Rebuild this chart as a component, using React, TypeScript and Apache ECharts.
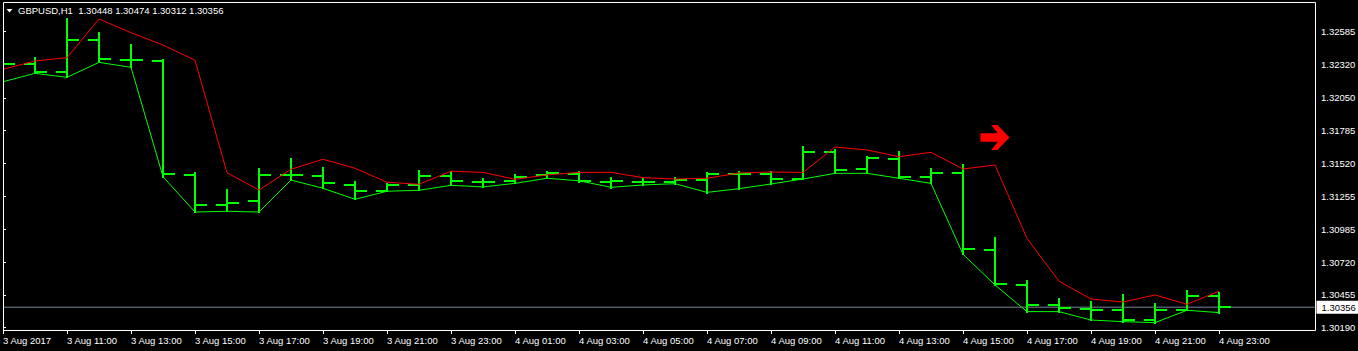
import React, { useEffect, useRef } from "react";
import * as echarts from "echarts";

const titleText = "GBPUSD,H1  1.30448 1.30474 1.30312 1.30356";

const timeLabels = [
  "3 Aug 2017", "3 Aug 11:00", "3 Aug 13:00", "3 Aug 15:00", "3 Aug 17:00",
  "3 Aug 19:00", "3 Aug 21:00", "3 Aug 23:00", "4 Aug 01:00", "4 Aug 03:00",
  "4 Aug 05:00", "4 Aug 07:00", "4 Aug 09:00", "4 Aug 11:00", "4 Aug 13:00",
  "4 Aug 15:00", "4 Aug 17:00", "4 Aug 19:00", "4 Aug 21:00", "4 Aug 23:00",
];

const opens = [
  1.32275, 1.32321, 1.32259, 1.32518, 1.32354, 1.32348, 1.31428, 1.31185, 1.31218, 1.31428,
  1.3142, 1.31347, 1.31299, 1.31347, 1.3142, 1.31369, 1.31377, 1.31426, 1.31431, 1.31371,
  1.31371, 1.31371, 1.31388, 1.31436, 1.31436, 1.31396, 1.31612, 1.31474, 1.31555, 1.31409,
  1.31444, 1.30821, 1.30538, 1.30376, 1.30344, 1.30333, 1.30252, 1.30333, 1.30448,
];
const highs = [
  1.32348, 1.32375, 1.32688, 1.32577, 1.32477, 1.32354, 1.31444, 1.31304, 1.31472, 1.31553,
  1.3148, 1.31367, 1.3135, 1.31456, 1.31447, 1.31391, 1.31426, 1.31447, 1.31447, 1.31404,
  1.31393, 1.31399, 1.31442, 1.3145, 1.31446, 1.31652, 1.31628, 1.31574, 1.31609, 1.31474,
  1.31506, 1.30913, 1.30566, 1.30422, 1.30398, 1.30455, 1.30379, 1.30485, 1.30474,
];
const lows = [
  1.3218, 1.32248, 1.32216, 1.32337, 1.32297, 1.31412, 1.31126, 1.31132, 1.31126, 1.31385,
  1.31318, 1.31229, 1.31294, 1.31302, 1.31342, 1.31329, 1.31358, 1.31399, 1.31367, 1.31323,
  1.31342, 1.31353, 1.31282, 1.31315, 1.3135, 1.31391, 1.31439, 1.31439, 1.31399, 1.31358,
  1.30784, 1.30536, 1.3032, 1.3032, 1.30252, 1.30239, 1.30231, 1.30331, 1.30312,
];
const closes = [
  1.32321, 1.32259, 1.32518, 1.32364, 1.32354, 1.31434, 1.31185, 1.31201, 1.31428, 1.31428,
  1.31357, 1.31299, 1.31342, 1.3142, 1.31377, 1.31369, 1.31412, 1.31438, 1.31377, 1.31379,
  1.31371, 1.31383, 1.31431, 1.31434, 1.31396, 1.31612, 1.31466, 1.31566, 1.31409, 1.31444,
  1.30827, 1.30546, 1.30376, 1.30352, 1.30333, 1.30252, 1.30333, 1.30449, 1.30356,
];

const redLine = [
  1.32281, 1.32348, 1.32375, 1.32688, 1.32577, 1.32477, 1.32354, 1.31444, 1.31304, 1.31472,
  1.31553, 1.3148, 1.31367, 1.3135, 1.31456, 1.31447, 1.31391, 1.31426, 1.31447, 1.31447,
  1.31404, 1.31393, 1.31399, 1.31442, 1.3145, 1.31446, 1.31652, 1.31628, 1.31574, 1.31609,
  1.31474, 1.31506, 1.30913, 1.30566, 1.30422, 1.30398, 1.30455, 1.30379, 1.30485,
];
const greenLine = [
  1.3218, 1.32248, 1.32216, 1.32337, 1.32297, 1.31412, 1.31126, 1.31132, 1.31126, 1.31385,
  1.31318, 1.31229, 1.31294, 1.31302, 1.31342, 1.31329, 1.31358, 1.31399, 1.31379, 1.31326,
  1.31345, 1.31355, 1.31285, 1.31315, 1.31353, 1.31393, 1.31439, 1.31439, 1.31399, 1.31358,
  1.30784, 1.30536, 1.3032, 1.3032, 1.30252, 1.30239, 1.30231, 1.30331, 1.30312,
];

const priceTicks = [1.32585, 1.3232, 1.3205, 1.31785, 1.3152, 1.31255, 1.30985, 1.3072, 1.30455, 1.3019];
const currentPrice = 1.30356;
const priceLineSpan = [0, 41];
const arrowPoint = [31, 1.31729];

const FONT = "'Liberation Sans', Arial, sans-serif";
const BAR_COLOR = "#00ff00";

export default function App() {
  const ref = useRef<HTMLDivElement>(null);

  useEffect(() => {
    document.body.style.margin = "0";
    const chart = echarts.init(ref.current!, null, { renderer: "svg" });
    const barData = opens.map((o, i) => [i, o, highs[i], lows[i], closes[i]]);
    const labelIdx = timeLabels.map((_, i) => i * 2);

    chart.setOption({
      animation: false,
      backgroundColor: "#000000",
      grid: { left: 3, right: 43, top: 2, bottom: 21, show: false, containLabel: false, outerBoundsMode: "none" },
      xAxis: {
        type: "value",
        min: 0,
        max: 41,
        axisLine: { show: false },
        splitLine: { show: false },
        axisTick: { show: true, customValues: labelIdx, length: 4, lineStyle: { color: "#ffffff", width: 1 } },
        axisLabel: {
          show: true,
          customValues: labelIdx,
          formatter: (v: number) => timeLabels[Math.round(v / 2)] ?? "",
          align: "left",
          margin: 5,
          color: "#ffffff",
          fontFamily: FONT,
          fontSize: 9.5,
        },
      },
      yAxis: {
        type: "value",
        position: "right",
        min: 1.301714,
        max: 1.328253,
        axisLine: { show: false },
        splitLine: { show: false },
        axisTick: { show: true, customValues: priceTicks, length: 3, lineStyle: { color: "#ffffff", width: 1 } },
        axisLabel: {
          show: true,
          customValues: priceTicks,
          formatter: (v: number) => v.toFixed(5),
          margin: 6,
          color: "#ffffff",
          fontFamily: FONT,
          fontSize: 9.5,
        },
      },
      graphic: [
        {
          type: "rect",
          shape: { x: 3.5, y: 2.5, width: 1312, height: 328 },
          style: { fill: "none", stroke: "#ffffff", lineWidth: 1 },
          z: 100,
          silent: true,
        },
        {
          type: "polygon",
          shape: { points: [[6.5, 9], [12.5, 9], [9.5, 12.5]] },
          style: { fill: "#ffffff" },
          z: 100,
        },
        {
          type: "text",
          x: 18,
          y: 5,
          style: { text: titleText, fill: "#ffffff", font: `9.5px ${FONT}`, textVerticalAlign: "top" },
          z: 100,
        },
      ],
      series: [
        {
          type: "line",
          name: "price",
          data: priceLineSpan.map((x) => [x, currentPrice]),
          showSymbol: false,
          lineStyle: { color: "#778899", width: 1 },
          z: 1,
        },
        {
          type: "scatter",
          name: "priceLabel",
          data: [[priceLineSpan[1], currentPrice]],
          symbol: "rect",
          symbolSize: 1,
          clip: false,
          itemStyle: { color: "#000000", opacity: 1 },
          emphasis: { disabled: true },
          z: 10,
          label: {
            show: true,
            position: "right",
            distance: 1,
            formatter: () => currentPrice.toFixed(5),
            color: "#000000",
            opacity: 1,
            backgroundColor: "#ffffff",
            padding: [2, 10, 1, 5],
            fontFamily: FONT,
            fontSize: 9.5,
          },
        },
        {
          type: "custom",
          name: "bars",
          data: barData,
          clip: true,
          z: 2,
          encode: { x: 0, y: [1, 2, 3, 4] },
          renderItem: (params: any, api: any) => {
            const i = api.value(0);
            const x = Math.round(api.coord([i, api.value(1)])[0]);
            const yo = Math.round(api.coord([i, api.value(1)])[1]);
            const yh = Math.round(api.coord([i, api.value(2)])[1]);
            const yl = Math.round(api.coord([i, api.value(3)])[1]);
            const yc = Math.round(api.coord([i, api.value(4)])[1]);
            const st = { stroke: BAR_COLOR, lineWidth: 2, lineCap: "butt" };
            return {
              type: "group",
              children: [
                { type: "line", shape: { x1: x, y1: yh - 1, x2: x, y2: yl + 1 }, style: st },
                { type: "line", shape: { x1: x - 11, y1: yo, x2: x, y2: yo }, style: st },
                { type: "line", shape: { x1: x, y1: yc, x2: x + 12, y2: yc }, style: st },
              ],
            };
          },
        },
        {
          type: "line",
          name: "upper",
          data: redLine.map((v, i) => [i, v]),
          showSymbol: false,
          lineStyle: { color: "#ff0000", width: 1 },
          z: 3,
        },
        {
          type: "line",
          name: "lower",
          data: greenLine.map((v, i) => [i, v]),
          showSymbol: false,
          lineStyle: { color: "#00ff00", width: 1 },
          z: 3,
        },
        {
          type: "scatter",
          name: "arrow",
          data: [arrowPoint],
          symbol: "path://M0,8.3 L17.3,8.3 L10.7,0 L17,0 L29,12.5 L17,25 L10.7,25 L17.3,16.7 L0,16.7 Z",
          symbolSize: [29, 25],
          itemStyle: { color: "#ff0000", opacity: 1 },
          z: 4,
        },
      ],
    });

    return () => chart.dispose();
  }, []);

  return (
    <div
      ref={ref}
      style={{ position: "absolute", left: 0, top: 0, width: 1358, height: 351, background: "#000" }}
    />
  );
}
